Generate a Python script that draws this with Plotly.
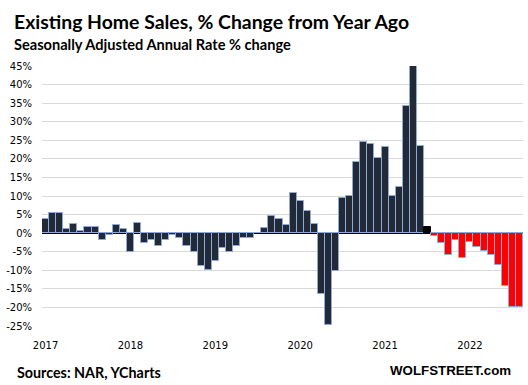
import plotly.graph_objects as go

# Monthly data Jan 2017 .. Aug 2022 (% change from year ago)
years = ["2017", "2018", "2019", "2020", "2021", "2022"]
values_2017 = [3.8, 5.4, 5.4, 1.1, 2.4, 0.45, 1.6, 1.6, -1.8, -0.5, 2.2, 1.1]
values_2018 = [-5.1, 2.6, -2.7, -1.8, -3.5, -1.8, -0.5, -1.25, -3.5, -5.1, -8.8, -9.9]
values_2019 = [-7.6, -3.9, -5.0, -3.4, -1.25, -1.25, 0.0, 1.5, 4.6, 3.8, 2.2, 10.7]
values_2020 = [8.6, 5.9, 2.4, -16.3, -24.7, -10.1, 9.4, 9.9, 19.1, 24.5, 23.9, 20.2]
values_2021 = [23.1, 9.9, 12.4, 34.1, 45.0, 23.4, 1.7, -0.7, -2.7, -5.9, -1.8, -6.7]
values_2022 = [-2.3, -3.8, -4.8, -5.9, -8.5, -14.2, -19.8, -19.8]

values = values_2017 + values_2018 + values_2019 + values_2020 + values_2021 + values_2022
months = list(range(len(values)))

# color groups: dark up to Jun 2021, black Jul 2021, red afterwards
n_dark = 54
colors = ["#222a38"] * n_dark + ["#000000"] + ["#ff0000"] * (len(values) - n_dark - 1)
line_colors = ["#8eaadb"] * n_dark + ["#000000"] + ["#8eaadb"] * (len(values) - n_dark - 1)

ytick_vals = list(range(-25, 50, 5))
ytick_text = [f"{v}%" for v in ytick_vals]
xtick_vals = [i * 12 for i in range(len(years))]

W, H = 528, 385
L, R, T, B = 42, 5, 66, 59
pw = W - L - R
ph = H - T - B

def px(x):
    return (x - L) / pw

def py(y):
    return (H - B - y) / ph

fig = go.Figure()
fig.add_trace(go.Bar(
    x=months, y=values,
    marker=dict(color=colors, line=dict(color=line_colors, width=1)),
    width=1.0,
    hoverinfo="skip",
))

fig.update_layout(
    width=W, height=H,
    margin=dict(l=L, r=R, t=T, b=B),
    paper_bgcolor="white", plot_bgcolor="white",
    showlegend=False,
    bargap=0,
    xaxis=dict(
        range=[-0.5, len(values) - 0.5],
        tickvals=xtick_vals, ticktext=years,
        showgrid=False, zeroline=False, showline=False,
        ticks="outside", ticklen=10, tickcolor="rgba(0,0,0,0)",
        tickfont=dict(family="DejaVu Sans", size=10, color="#000000"),
    ),
    yaxis=dict(
        range=[-25, 45],
        tickvals=ytick_vals, ticktext=ytick_text,
        showgrid=True, gridcolor="#d9d9d9", gridwidth=1,
        zeroline=True, zerolinecolor="#000000", zerolinewidth=1.5,
        showline=False,
        ticks="outside", ticklen=7, tickcolor="rgba(0,0,0,0)",
        tickfont=dict(family="DejaVu Sans", size=10, color="#000000"),
    ),
    annotations=[
        dict(text="<b>Existing Home Sales, % Change from Year Ago</b>",
             xref="paper", yref="paper", x=px(12), y=py(22),
             xanchor="left", yanchor="middle", showarrow=False,
             font=dict(family="Lato", size=19.4, color="#000000")),
        dict(text="<b>Seasonally Adjusted Annual Rate % change</b>",
             xref="paper", yref="paper", x=px(12), y=py(44.5),
             xanchor="left", yanchor="middle", showarrow=False,
             font=dict(family="Lato", size=14.6, color="#000000")),
        dict(text="<b>Sources: NAR, YCharts</b>",
             xref="paper", yref="paper", x=px(15), y=py(372),
             xanchor="left", yanchor="middle", showarrow=False,
             font=dict(family="Lato", size=14.3, color="#000000")),
        dict(text="<b>WOLFSTREET.com</b>",
             xref="paper", yref="paper", x=px(513), y=py(370.5),
             xanchor="right", yanchor="middle", showarrow=False,
             font=dict(family="Liberation Sans", size=13.3, color="#000000")),
    ],
)

fig.write_html("out.html", config={"displayModeBar": False},
               post_script="document.body.style.margin='0';document.body.style.padding='0';")
